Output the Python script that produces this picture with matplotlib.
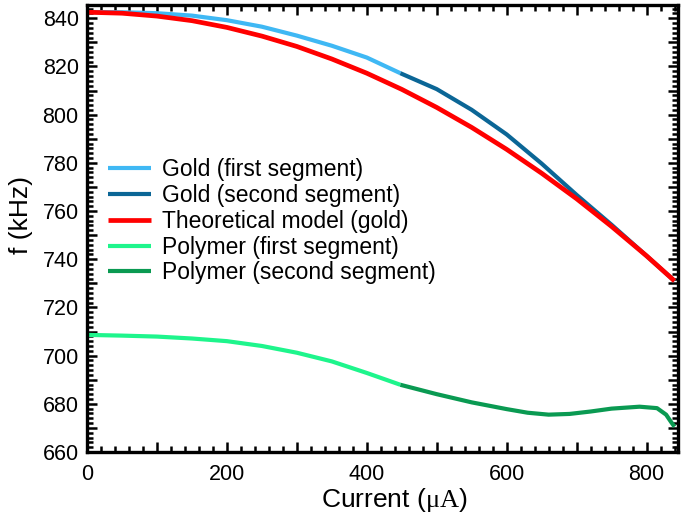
import matplotlib
matplotlib.use("Agg")
import matplotlib.pyplot as plt
from matplotlib.ticker import MultipleLocator, FuncFormatter

plt.rcParams['font.family'] = ['Liberation Sans', 'DejaVu Sans']
plt.rcParams['mathtext.fontset'] = 'custom'
plt.rcParams['mathtext.rm'] = 'Liberation Serif'
plt.rcParams['mathtext.it'] = 'Liberation Serif:italic'

gold1_x = [0, 50, 100, 150, 200, 250, 300, 350, 400, 448]
gold1_f = [842.6, 842.5, 842.1, 841.1, 839.2, 836.5, 832.8, 828.6, 823.7, 817.2]

gold2_x = [448, 500, 550, 600, 650, 700, 750, 800, 840]
gold2_f = [817.2, 810.6, 802.0, 791.8, 779.7, 766.7, 754.3, 741.4, 731.0]

model_x = [0, 50, 100, 150, 200, 250, 300, 350, 400, 450, 500, 550, 600, 650, 700, 750, 800, 840]
model_f = [842.5, 842.1, 840.9, 839.0, 836.2, 832.6, 828.3, 823.1, 817.2, 810.5, 803.0,
           794.7, 785.6, 775.7, 765.1, 753.6, 741.4, 731.0]

poly1_x = [0, 50, 100, 150, 200, 250, 300, 350, 400, 448]
poly1_f = [708.6, 708.3, 707.9, 707.1, 706.0, 704.0, 701.2, 697.6, 692.8, 687.9]

poly2_x = [448, 500, 550, 600, 630, 660, 690, 720, 750, 790, 815, 828, 835, 840]
poly2_f = [687.9, 684.0, 680.6, 677.8, 676.3, 675.5, 675.8, 676.8, 678.0, 678.8, 678.2, 675.5, 672.5, 670.5]

labels = ["Gold (first segment)", "Gold (second segment)", "Theoretical model (gold)",
          "Polymer (first segment)", "Polymer (second segment)"]
colors = ["#3fb8f4", "#0b6696", "#ff0000", "#1ef58c", "#0a9a52"]

fig = plt.figure(figsize=(6.81, 5.22), dpi=100)
ax = fig.add_axes([0.1278, 0.1341, 0.8678, 0.8563])

ax.plot(gold1_x, gold1_f, color=colors[0], lw=3.0, label=labels[0], solid_capstyle='butt')
ax.plot(gold2_x, gold2_f, color=colors[1], lw=3.0, label=labels[1], solid_capstyle='butt')
ax.plot(model_x, model_f, color=colors[2], lw=3.4, label=labels[2], solid_capstyle='butt')
ax.plot(poly1_x, poly1_f, color=colors[3], lw=3.0, label=labels[3], solid_capstyle='butt')
ax.plot(poly2_x, poly2_f, color=colors[4], lw=3.0, label=labels[4], solid_capstyle='butt')

ax.set_xlim(0, 845)
ax.set_ylim(660, 845.5)

ax.xaxis.set_major_locator(MultipleLocator(100))
ax.xaxis.set_minor_locator(MultipleLocator(20))
ax.yaxis.set_major_locator(MultipleLocator(10))
ax.yaxis.set_minor_locator(MultipleLocator(2))
ax.xaxis.set_major_formatter(FuncFormatter(lambda v, p: f"{int(round(v))}" if int(round(v)) % 200 == 0 else ""))
ax.yaxis.set_major_formatter(FuncFormatter(lambda v, p: f"{int(round(v))}" if int(round(v)) % 20 == 0 else ""))

ax.tick_params(which='both', direction='in', top=True, right=True, width=1.8, labelsize=15.5)
ax.tick_params(which='major', length=7.5)
ax.tick_params(which='minor', length=4)
ax.tick_params(axis='x', pad=9)
ax.tick_params(axis='y', pad=6)
for s in ax.spines.values():
    s.set_linewidth(2.4)

ax.set_xlabel(r"Current ($\mathrm{\mu A}$)", fontsize=19, labelpad=0)
ax.set_ylabel("f (kHz)", fontsize=19)
ax.xaxis.set_label_coords(0.52, -0.075)
ax.yaxis.set_label_coords(-0.092, 0.53)

leg = ax.legend(loc='upper left', bbox_to_anchor=(0.035, 0.657), frameon=False, fontsize=16.5,
                handlelength=1.9, handletextpad=0.45, labelspacing=0.12, borderaxespad=0,
                borderpad=0)

fig.savefig("out.png", dpi=100)
